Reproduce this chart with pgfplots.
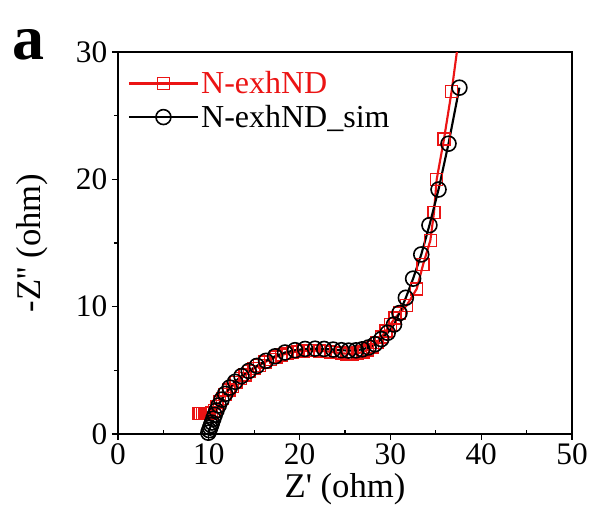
\documentclass[border=0pt]{standalone}
\usepackage{pgfplots}
\pgfplotsset{compat=1.18}
\usepackage{fontspec}
\setmainfont{Liberation Serif}
\definecolor{datared}{RGB}{235,20,20}

\begin{document}
\begin{tikzpicture}[x=1pt,y=1pt]
% page frame: 593 x 514 px at 0.75 pt per px, axis corner at the origin
\path[use as bounding box] (-88.5,-60) rectangle (356.25,325.5);
\begin{axis}[
  at={(0,0)}, anchor=south west,
  scale only axis, width=340.5pt, height=286.5pt,
  xmin=0, xmax=50, ymin=0, ymax=30,
  xtick={0,10,...,50}, ytick={0,10,20,30},
  minor x tick num=1, minor y tick num=1,
  tick pos=left, tick align=outside,
  major tick length=4.5pt, minor tick length=3pt,
  minor x tick style={yshift=3pt},
  axis line style={line width=1.1pt},
  every tick/.style={line width=1pt, black},
  tick label style={font=\fontsize{23.5}{25}\selectfont},
  xticklabel style={yshift=1pt},
  /pgf/number format/assume math mode=true,
  xlabel={Z\textquotesingle\ (ohm)}, ylabel={-Z\textquotesingle\textquotesingle\ (ohm)},
  label style={font=\fontsize{26}{28}\selectfont},
  xlabel style={at={(axis description cs:0.5,-0.145)}, anchor=center},
  ylabel style={at={(axis description cs:-0.188,0.5)}, anchor=center, rotate=0},
  clip=true,
  legend cell align=left,
  legend style={draw=none, fill=none, at={(axis description cs:0.012,0.962)}, anchor=north west,
    font=\fontsize{24}{26}\selectfont, row sep=4pt,
    nodes={inner sep=1.5pt}},
  legend image code/.code={%
    \draw[#1, mark repeat=2, mark phase=2] plot coordinates {(0pt,0pt) (26pt,0pt) (52pt,0pt)};},
]
% measured impedance
\addplot[datared, line width=1.6pt, mark=square, mark size=4.5pt,
  mark options={solid, fill=white, line width=1.1pt}] coordinates {
  (8.9,1.62) (9.1,1.62) (9.3,1.62) (9.5,1.62) (9.7,1.62) (9.9,1.62) (10.1,1.62)
  (10.3,1.65) (10.6,1.85) (10.9,2.15) (11.2,2.5) (11.5,2.8) (11.8,3.1) (12.2,3.45)
  (12.6,3.75) (13.0,4.05) (13.5,4.35) (14.0,4.65) (14.5,4.9) (15.0,5.15) (15.6,5.4)
  (16.2,5.65) (16.8,5.85) (17.4,6.05) (18.0,6.2) (18.6,6.32) (19.2,6.42) (19.8,6.48)
  (20.4,6.52) (21.0,6.55) (21.6,6.55) (22.2,6.53) (22.8,6.5) (23.4,6.45) (24.0,6.4)
  (24.6,6.35) (25.2,6.3) (25.8,6.3) (26.4,6.35) (27.0,6.45) (27.5,6.6) (28.0,6.85)
  (28.5,7.2) (29.0,7.6) (29.5,8.1) (30.0,8.6) (30.5,9.1) (31.0,9.5) (31.8,10.1)
  (32.9,11.4) (33.6,13.3) (34.4,15.2) (34.8,17.4) (35.1,20.0) (35.9,23.15)
  (36.74,26.9) (37.6,31.5)
};
\addlegendentry{\textcolor{datared}{N-exhND}}
% equivalent-circuit fit
\addplot[black, line width=1.6pt, mark=o, mark size=5.6pt,
  mark options={solid, fill=white, line width=1.2pt}] coordinates {
  (9.95,0.1) (10.05,0.3) (10.15,0.5) (10.25,0.7) (10.35,0.9) (10.5,1.2) (10.65,1.5)
  (10.85,1.85) (11.1,2.25) (11.4,2.7) (11.8,3.15) (12.3,3.65) (12.9,4.1) (13.6,4.55)
  (14.4,4.95) (15.3,5.35) (16.3,5.75) (17.3,6.1) (18.4,6.4) (19.5,6.58) (20.6,6.68)
  (21.7,6.7) (22.7,6.68) (23.7,6.63) (24.6,6.58) (25.4,6.55) (26.2,6.57) (26.9,6.65)
  (27.6,6.8) (28.3,7.05) (29.0,7.45) (29.7,7.95) (30.4,8.6) (31.0,9.5) (31.7,10.7)
  (32.5,12.2) (33.4,14.1) (34.3,16.4) (35.3,19.2) (36.4,22.8) (37.6,27.2)
};
\addlegendentry{N-exhND\_sim}
\end{axis}
\node[anchor=base west, inner sep=0pt] at (-79,281) {\fontsize{48}{50}\selectfont\bfseries a};
\end{tikzpicture}
\end{document}
